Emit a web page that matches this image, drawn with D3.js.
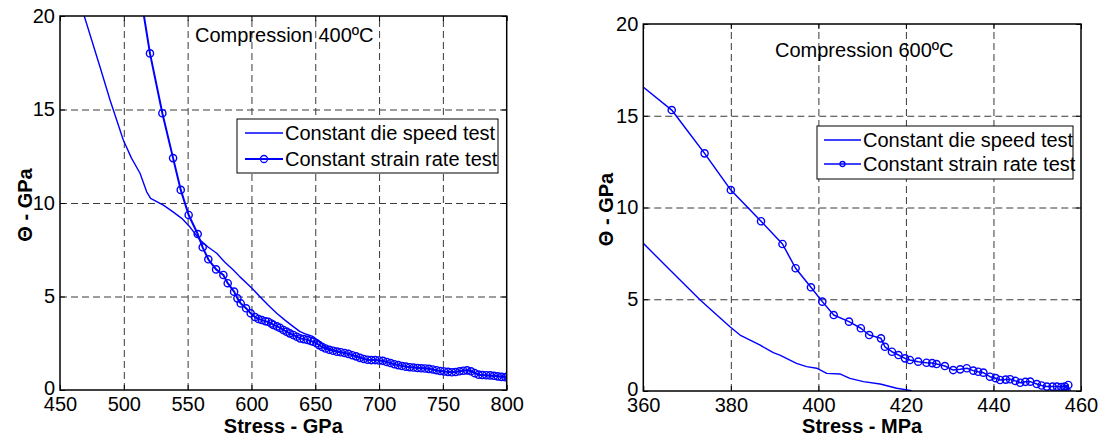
<!DOCTYPE html>
<html>
<head>
<meta charset="utf-8">
<script src="https://cdn.jsdelivr.net/npm/d3@7"></script>
<style>
  body { margin: 0; background: #fff; }
  svg { display: block; font-family: "Liberation Sans", Arial, sans-serif; }
  .grid line { stroke: #3a3a3a; stroke-dasharray: 7,4; stroke-width: 1; }
  .grid .domain { display: none; }
  .ticks line { stroke: #000; }
  .ticks .domain { display: none; }
  .labels .domain, .labels line { display: none; }
  .labels text { font-size: 20px; fill: #000; }
</style>
</head>
<body>
<svg id="chart" width="1102" height="440"></svg>
<script>
// ── Data ─────────────────────────────────────────────────────────────────────
// 400ºC panel: [stress GPa, theta GPa]
const dieSpeed400 = [
  [468.5,20.3],[469.0,20.0],[481.3,17.29],[489.2,15.51],[499.6,13.37],[506,12.4],
  [512.7,11.59],[517.9,10.6],[521,10.25],[525.8,10.07],[531.0,9.89],[538,9.55],
  [545.4,9.18],[552,8.7],[559.7,8.02],[566,7.65],[572.8,7.31],[579,6.85],
  [585.8,6.42],[591,6.05],[596.3,5.71],[601,5.4],[606.7,4.99],[613,4.55],
  [619.8,4.1],[626,3.75],[632.8,3.39],[638.1,3.12],[643,2.98],[648.5,2.85],
  [653,2.6],[658,2.3],[664,2.14],[670,2.03],[675,1.96],[682,1.82],[690,1.62],
  [700,1.6],[710,1.42],[721,1.25],[730,1.2],[737,1.16],[745,1.05],[753,0.98],
  [760,0.98],[766,1.05],[771,1.07],[776,0.88],[779,0.8],[790,0.75],[800,0.71]
];
const strainRate400 = [
  [514.6,20.5],[520.5,18.0],[530.2,14.8],[538.6,12.4],[544.6,10.7],[550.8,9.36],
  [557.9,8.34],[561.8,7.63],[566.2,6.99],[572.3,6.45],[578.0,6.15],[581.4,5.71],
  [586.4,5.26],[589.0,4.9],[591.6,4.63],[595.8,4.37],[599.4,4.1],[602.8,3.9],
  [605.5,3.8],[608.1,3.74],[611,3.68],[613.2,3.65],[615.5,3.56],[617.2,3.48],
  [620,3.4],[622.4,3.32],[625.0,3.21],[627.5,3.12],[630,3.03],[632.8,2.94],
  [635.5,2.85],[638.1,2.76],[641,2.72],[644,2.68],[646.5,2.62],[648.5,2.58],
  [651,2.5],[653,2.4],[655.5,2.3],[658,2.22],[661,2.15],[664,2.1],[667,2.05],
  [670,2.02],[673,1.98],[676,1.93],[679,1.86],[682,1.8],[685,1.72],[688,1.66],
  [691,1.62],[694,1.6],[697,1.6],[700,1.58],[703,1.56],[706,1.5],[709,1.44],
  [712,1.38],[715,1.33],[718,1.28],[721,1.25],[724,1.22],[727,1.2],[730,1.18],
  [733,1.16],[736,1.15],[739,1.13],[742,1.1],[745,1.06],[748,1.02],[751,0.99],
  [754,0.97],[757,0.95],[760,0.96],[763,1.0],[766,1.03],[769,1.05],[772,1.0],
  [775,0.9],[778,0.82],[781,0.8],[784,0.79],[787,0.78],[790,0.76],[793,0.73],
  [796,0.7],[799,0.68],[800.5,0.72]
];
// 600ºC panel: [stress MPa, theta GPa]
const dieSpeed600 = [
  [360,8.05],[366.1,6.59],[373.0,4.96],[376.8,4.14],[379.8,3.5],[382.1,3.05],
  [386.6,2.51],[389.7,2.09],[391.2,1.96],[395.0,1.51],[397.3,1.33],[399.6,1.24],
  [401.9,0.96],[404.9,0.93],[407.2,0.69],[410.3,0.51],[414.1,0.38],[417.9,0.15],
  [421.3,0.02]
];
const strainRate600 = [
  [358.5,16.85],[366.5,15.31],[374.0,12.95],[380.0,10.95],[386.9,9.25],[391.8,8.01],
  [394.8,6.69],[398.3,5.65],[400.9,4.87],[403.5,4.14],[407.0,3.78],[409.7,3.42],
  [411.6,3.05],[414.3,2.87],[415.2,2.41],[416.8,2.14],[418.3,1.96],[419.8,1.78],
  [420.9,1.69],[422.8,1.6],[424.7,1.54],[426,1.52],[427.0,1.47],[428.9,1.36],
  [430.8,1.14],[432.4,1.18],[433.9,1.24],[435.4,1.11],[436.5,1.05],[437.7,1.0],
  [439.2,0.78],[440.5,0.7],[441.5,0.6],[442.8,0.62],[443.8,0.64],[445,0.55],
  [446.1,0.45],[447.3,0.5],[448.4,0.51],[449.9,0.38],[451,0.3],[452.2,0.24],
  [453.5,0.24],[454.5,0.24],[455.5,0.22],[456.3,0.24],[457.1,0.33],[456.7,0.02],
  [456.3,0.1]
];

const xTicks400 = [450, 500, 550, 600, 650, 700, 750, 800];
const xTicks600 = [360, 380, 400, 420, 440, 460];
const yTicks = [0, 5, 10, 15, 20];
const legendLabels = ['Constant die speed test', 'Constant strain rate test'];

const BLUE = '#0000ff';
const FS = 20;
const svg = d3.select('#chart');

// ── One MATLAB-style panel ───────────────────────────────────────────────────
function drawPanel(cfg) {
  const x = d3.scaleLinear().domain(cfg.xDomain).range(cfg.xRange);
  const y = d3.scaleLinear().domain([0, 20]).range(cfg.yRange);
  const [x0, x1] = cfg.xRange;
  const [yb, yt] = cfg.yRange;
  const w = x1 - x0, h = yb - yt;

  const g = svg.append('g');

  g.append('defs').append('clipPath').attr('id', cfg.id + '-clip')
    .append('rect').attr('x', x0).attr('y', yt).attr('width', w).attr('height', h);

  // dashed grid
  const inX = cfg.xTicks.slice(1, -1), inY = yTicks.slice(1, -1);
  g.append('g').attr('class', 'grid')
    .attr('transform', `translate(0,${yb})`)
    .call(d3.axisBottom(x).tickValues(inX).tickSize(-h).tickFormat(''));
  g.append('g').attr('class', 'grid')
    .attr('transform', `translate(${x0},0)`)
    .call(d3.axisLeft(y).tickValues(inY).tickSize(-w).tickFormat(''));

  // inward tick marks on all four sides
  const tk = 5;
  g.append('g').attr('class', 'ticks').attr('transform', `translate(0,${yb})`)
    .call(d3.axisBottom(x).tickValues(cfg.xTicks).tickSize(-tk).tickFormat(''));
  g.append('g').attr('class', 'ticks').attr('transform', `translate(0,${yt})`)
    .call(d3.axisTop(x).tickValues(cfg.xTicks).tickSize(-tk).tickFormat(''));
  g.append('g').attr('class', 'ticks').attr('transform', `translate(${x0},0)`)
    .call(d3.axisLeft(y).tickValues(yTicks).tickSize(-tk).tickFormat(''));
  g.append('g').attr('class', 'ticks').attr('transform', `translate(${x1},0)`)
    .call(d3.axisRight(y).tickValues(yTicks).tickSize(-tk).tickFormat(''));

  // tick labels
  g.append('g').attr('class', 'labels').attr('transform', `translate(0,${yb})`)
    .call(d3.axisBottom(x).tickValues(cfg.xTicks).tickSize(0).tickPadding(7).tickFormat(d3.format('d')));
  g.append('g').attr('class', 'labels').attr('transform', `translate(${x0},0)`)
    .call(d3.axisLeft(y).tickValues(yTicks).tickSize(0).tickPadding(5).tickFormat(d3.format('d')))
    .selectAll('.tick text').attr('dy', d => d === 0 ? '0.2em' : '0.32em');

  // data
  const line = d3.line().x(d => x(d[0])).y(d => y(d[1]));
  const plot = g.append('g').attr('clip-path', `url(#${cfg.id}-clip)`);
  plot.append('path').datum(cfg.die)
    .attr('fill', 'none').attr('stroke', BLUE).attr('stroke-width', 1.4)
    .attr('stroke-linejoin', 'round').attr('d', line);
  plot.append('path').datum(cfg.strain)
    .attr('fill', 'none').attr('stroke', BLUE).attr('stroke-width', cfg.strainW)
    .attr('stroke-linejoin', 'round').attr('d', line);
  plot.selectAll('circle.m').data(cfg.strain).join('circle')
    .attr('class', 'm')
    .attr('cx', d => x(d[0])).attr('cy', d => y(d[1])).attr('r', 3.6)
    .attr('fill', 'none').attr('stroke', BLUE).attr('stroke-width', 1.4);

  // axes box
  g.append('rect').attr('x', x0).attr('y', yt).attr('width', w).attr('height', h)
    .attr('fill', 'none').attr('stroke', '#000').attr('stroke-width', 1.5);

  // title inside the axes
  g.append('text').attr('x', cfg.title.x).attr('y', cfg.title.y)
    .attr('font-size', FS).text(cfg.title.text);

  // legend
  const L = cfg.legend;
  g.append('rect').attr('x', L.x).attr('y', L.y).attr('width', L.w).attr('height', L.h)
    .attr('fill', '#fff').attr('stroke', '#000').attr('stroke-width', 1);
  legendLabels.forEach((lab, i) => {
    const ly = L.rows[i];
    g.append('line').attr('x1', L.lx0).attr('x2', L.lx1).attr('y1', ly).attr('y2', ly)
      .attr('stroke', BLUE).attr('stroke-width', i === 1 ? cfg.strainW : 1.4);
    if (i === 1) {
      g.append('circle').attr('cx', (L.lx0 + L.lx1) / 2).attr('cy', ly).attr('r', L.r)
        .attr('fill', 'none').attr('stroke', BLUE).attr('stroke-width', 1.3);
    }
    g.append('text').attr('x', L.tx).attr('y', ly + 7).attr('font-size', FS).text(lab);
  });

  // axis labels
  g.append('text').attr('x', (x0 + x1) / 2).attr('y', 433)
    .attr('text-anchor', 'middle').attr('font-size', FS).attr('font-weight', 'bold')
    .text(cfg.xLabel);
  g.append('text')
    .attr('transform', `translate(${cfg.yLabelX},${(yb + yt) / 2 + 2}) rotate(-90)`)
    .attr('text-anchor', 'middle').attr('font-size', FS).attr('font-weight', 'bold')
    .text('Θ - GPa');
}

drawPanel({
  id: 'p400', xDomain: [450, 800], xRange: [60, 506.7], yRange: [390, 16],
  xTicks: xTicks400, die: dieSpeed400, strain: strainRate400, strainW: 2,
  title: { x: 195, y: 42, text: 'Compression 400ºC' },
  legend: { x: 237, y: 119, w: 261, h: 54, rows: [133, 159], lx0: 245, lx1: 283, tx: 285, r: 3.5 },
  xLabel: 'Stress - GPa', yLabelX: 32
});

drawPanel({
  id: 'p600', xDomain: [360, 460], xRange: [643.3, 1081], yRange: [391, 24],
  xTicks: xTicks600, die: dieSpeed600, strain: strainRate600, strainW: 1.5,
  title: { x: 775, y: 57, text: 'Compression 600ºC' },
  legend: { x: 817, y: 126, w: 256, h: 53, rows: [140, 164], lx0: 824, lx1: 861, tx: 863, r: 2.5 },
  xLabel: 'Stress - MPa', yLabelX: 613
});
</script>
</body>
</html>
